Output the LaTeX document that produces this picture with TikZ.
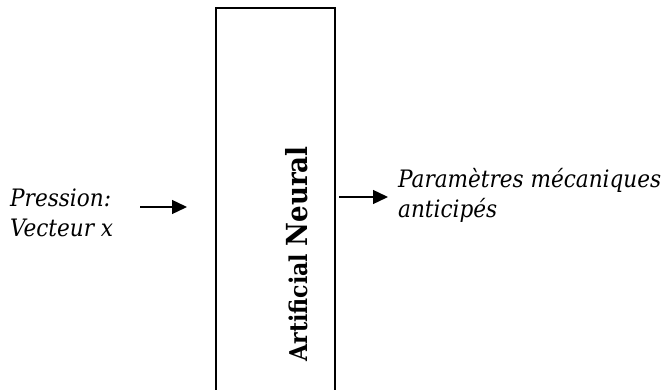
\documentclass[tikz,border=0pt]{standalone}
\usepackage{fontspec}
\setmainfont{DejaVu Serif Condensed}
\usetikzlibrary{arrows.meta}

\begin{document}
\begin{tikzpicture}[x=1pt, y=-1pt,
    lbl/.style={align=left, inner sep=0pt, anchor=base west, font=\fontsize{24}{30}\selectfont\itshape},
    flow/.style={line width=1.4pt, -{Triangle[length=15pt, width=14pt]}}]
      \clip (0,0) rectangle (667,390);
      \node[draw, line width=1.2pt, minimum width=119pt, minimum height=400pt, inner sep=0pt] (net) at (275.5,208) {};
      \node[rotate=90, inner sep=0pt, anchor=base, font=\bfseries] (netlabel) at (307,254) {\fontsize{24.5}{26}\selectfont Artificial\ \fontsize{29}{26}\selectfont Neural};

      \node[lbl] (in) at (10,237) {Pression:\\Vecteur x};
      \node[lbl] (out) at (398,218) {Paramètres mécaniques\\anticipés};

      \coordinate (a1) at (140,207);
      \coordinate (a2) at (187,207);
      \coordinate (b1) at (339,197);
      \coordinate (b2) at (388,197);
      \draw[flow] (a1) -- (a2);
      \draw[flow] (b1) -- (b2);
    \end{tikzpicture}
\end{document}
